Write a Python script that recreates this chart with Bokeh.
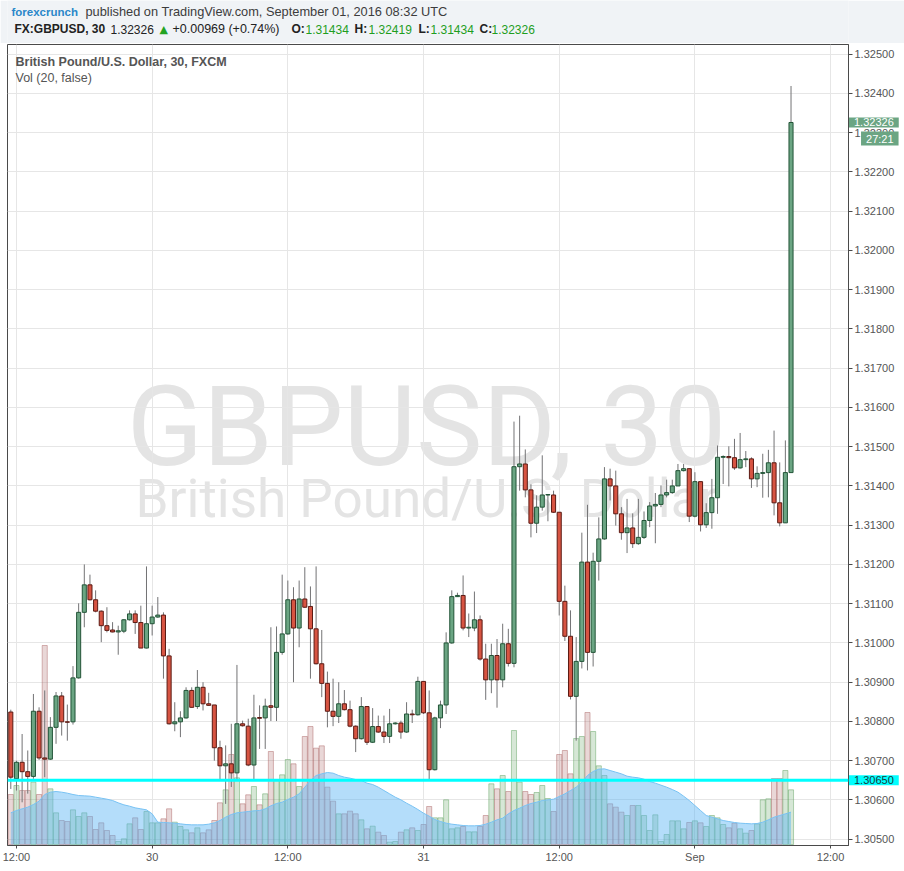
from bokeh.plotting import figure
from bokeh.layouts import column
from bokeh.models import (Range1d, FixedTicker, PrintfTickFormatter, Span, Label,
                          ColumnDataSource)
from bokeh.embed import file_html
from bokeh.resources import INLINE

# ---------------- data (GBPUSD 30-minute bars, FXCM) ----------------
opens = [1.30824, 1.30654, 1.30696, 1.30672, 1.30660, 1.30826, 1.30707, 1.30704, 1.30785, 1.30865,
         1.30799, 1.30799, 1.30911, 1.31078, 1.31148, 1.31110, 1.31081, 1.31044, 1.31033, 1.31028,
         1.31030, 1.31059, 1.31074, 1.31052, 1.30987, 1.31049, 1.31066, 1.31071, 1.30967, 1.30794,
         1.30799, 1.30809, 1.30879, 1.30838, 1.30887, 1.30845, 1.30842, 1.30733, 1.30687, 1.30692,
         1.30669, 1.30794, 1.30788, 1.30689, 1.30810, 1.30809, 1.30840, 1.30836, 1.30976, 1.31023,
         1.31110, 1.31038, 1.31112, 1.31093, 1.31036, 1.30947, 1.30897, 1.30826, 1.30813, 1.30845,
         1.30830, 1.30788, 1.30756, 1.30838, 1.30747, 1.30787, 1.30773, 1.30762, 1.30794, 1.30796,
         1.30773, 1.30819, 1.30817, 1.30902, 1.30822, 1.30677, 1.30809, 1.30842, 1.31000, 1.31118,
         1.31121, 1.31038, 1.31038, 1.31059, 1.30959, 1.30906, 1.30968, 1.30906, 1.30998, 1.30948,
         1.31449, 1.31456, 1.31390, 1.31305, 1.31346, 1.31377, 1.31377, 1.31333, 1.31106, 1.31017,
         1.30864, 1.30953, 1.31206, 1.30976, 1.31208, 1.31265, 1.31418, 1.31400, 1.31329, 1.31281,
         1.31293, 1.31253, 1.31269, 1.31312, 1.31349, 1.31353, 1.31377, 1.31383, 1.31400, 1.31439,
         1.31444, 1.31323, 1.31411, 1.31301, 1.31332, 1.31370, 1.31473, 1.31475, 1.31472, 1.31446,
         1.31467, 1.31469, 1.31418, 1.31432, 1.31434, 1.31459, 1.31357, 1.31306, 1.31434]
highs = [1.30830, 1.30700, 1.30768, 1.30726, 1.30870, 1.30836, 1.30879, 1.30811, 1.30875, 1.30875,
         1.30843, 1.30941, 1.31101, 1.31200, 1.31174, 1.31134, 1.31083, 1.31091, 1.31053, 1.31044,
         1.31061, 1.31083, 1.31083, 1.31095, 1.31195, 1.31095, 1.31117, 1.31078, 1.30985, 1.30849,
         1.30826, 1.30887, 1.30887, 1.30931, 1.30900, 1.30873, 1.30842, 1.30751, 1.30739, 1.30794,
         1.30944, 1.30802, 1.30807, 1.30868, 1.30841, 1.30858, 1.31040, 1.31042, 1.31174, 1.31159,
         1.31142, 1.31159, 1.31193, 1.31144, 1.31195, 1.31033, 1.30927, 1.30909, 1.30900, 1.30880,
         1.30853, 1.30790, 1.30862, 1.30839, 1.30834, 1.30815, 1.30815, 1.30832, 1.30798, 1.30802,
         1.30849, 1.30830, 1.30914, 1.30902, 1.30879, 1.30812, 1.30853, 1.31027, 1.31134, 1.31128,
         1.31172, 1.31075, 1.31131, 1.31070, 1.30998, 1.30998, 1.31010, 1.31049, 1.31036, 1.31564,
         1.31579, 1.31493, 1.31404, 1.31376, 1.31478, 1.31378, 1.31388, 1.31333, 1.31146, 1.31083,
         1.31015, 1.31281, 1.31352, 1.31230, 1.31320, 1.31448, 1.31444, 1.31439, 1.31346, 1.31367,
         1.31330, 1.31367, 1.31335, 1.31359, 1.31382, 1.31401, 1.31416, 1.31416, 1.31456, 1.31456,
         1.31444, 1.31435, 1.31411, 1.31356, 1.31418, 1.31503, 1.31478, 1.31501, 1.31520, 1.31535,
         1.31489, 1.31473, 1.31450, 1.31482, 1.31492, 1.31541, 1.31460, 1.31516, 1.32419]
lows = [1.30628, 1.30624, 1.30594, 1.30616, 1.30654, 1.30702, 1.30658, 1.30702, 1.30743, 1.30764,
        1.30751, 1.30792, 1.30909, 1.31040, 1.31108, 1.31078, 1.31002, 1.31027, 1.31027, 1.30970,
        1.31025, 1.31057, 1.31023, 1.30987, 1.30986, 1.31019, 1.31064, 1.30909, 1.30792, 1.30775,
        1.30760, 1.30807, 1.30835, 1.30832, 1.30828, 1.30840, 1.30700, 1.30650, 1.30590, 1.30633,
        1.30650, 1.30787, 1.30686, 1.30650, 1.30730, 1.30730, 1.30801, 1.30801, 1.30970, 1.31021,
        1.30900, 1.30989, 1.31089, 1.30909, 1.30945, 1.30862, 1.30785, 1.30788, 1.30796, 1.30828,
        1.30785, 1.30722, 1.30754, 1.30740, 1.30745, 1.30771, 1.30745, 1.30745, 1.30792, 1.30756,
        1.30771, 1.30796, 1.30815, 1.30819, 1.30651, 1.30675, 1.30783, 1.30819, 1.30998, 1.31117,
        1.31032, 1.31015, 1.31030, 1.30955, 1.30855, 1.30872, 1.30835, 1.30887, 1.30940, 1.30938,
        1.31388, 1.31371, 1.31269, 1.31280, 1.31337, 1.31310, 1.31331, 1.31070, 1.31005, 1.30856,
        1.30751, 1.30935, 1.30930, 1.30940, 1.31159, 1.31263, 1.31363, 1.31299, 1.31263, 1.31229,
        1.31242, 1.31250, 1.31265, 1.31295, 1.31254, 1.31346, 1.31371, 1.31380, 1.31400, 1.31437,
        1.31308, 1.31320, 1.31284, 1.31293, 1.31291, 1.31329, 1.31405, 1.31399, 1.31441, 1.31444,
        1.31448, 1.31395, 1.31397, 1.31370, 1.31371, 1.31325, 1.31297, 1.31306, 1.31434]
closes = [1.30658, 1.30696, 1.30672, 1.30660, 1.30826, 1.30707, 1.30704, 1.30785, 1.30865, 1.30799,
          1.30798, 1.30911, 1.31078, 1.31148, 1.31110, 1.31081, 1.31044, 1.31032, 1.31028, 1.31031,
          1.31059, 1.31074, 1.31052, 1.30987, 1.31049, 1.31066, 1.31071, 1.30967, 1.30794, 1.30799,
          1.30809, 1.30879, 1.30836, 1.30887, 1.30845, 1.30841, 1.30733, 1.30687, 1.30692, 1.30669,
          1.30794, 1.30789, 1.30689, 1.30809, 1.30808, 1.30839, 1.30836, 1.30976, 1.31023, 1.31110,
          1.31038, 1.31112, 1.31091, 1.31036, 1.30947, 1.30897, 1.30826, 1.30813, 1.30845, 1.30830,
          1.30788, 1.30756, 1.30838, 1.30747, 1.30787, 1.30773, 1.30762, 1.30794, 1.30796, 1.30773,
          1.30819, 1.30817, 1.30902, 1.30822, 1.30677, 1.30809, 1.30842, 1.31000, 1.31118, 1.31121,
          1.31038, 1.31040, 1.31059, 1.30959, 1.30906, 1.30968, 1.30906, 1.30998, 1.30948, 1.31449,
          1.31456, 1.31390, 1.31305, 1.31346, 1.31377, 1.31378, 1.31333, 1.31106, 1.31017, 1.30864,
          1.30953, 1.31206, 1.30976, 1.31208, 1.31265, 1.31418, 1.31400, 1.31329, 1.31281, 1.31293,
          1.31253, 1.31269, 1.31312, 1.31349, 1.31353, 1.31377, 1.31383, 1.31400, 1.31439, 1.31444,
          1.31323, 1.31411, 1.31301, 1.31332, 1.31370, 1.31473, 1.31475, 1.31472, 1.31446, 1.31467,
          1.31469, 1.31418, 1.31432, 1.31434, 1.31459, 1.31357, 1.31306, 1.31434, 1.32326]
volume = [150, 177, 162, 162, 187, 150, 597, 167, 95, 72,
          69, 104, 84, 95, 84, 45, 65, 42, 27, 9,
          17, 62, 80, 45, 99, 65, 65, 77, 107, 67,
          54, 44, 35, 50, 35, 44, 72, 125, 164, 270,
          200, 122, 149, 174, 119, 152, 279, 192, 209, 255,
          242, 174, 324, 354, 289, 296, 172, 130, 92, 92,
          100, 92, 74, 47, 55, 37, 27, 7, 9, 37,
          44, 50, 42, 60, 114, 80, 80, 134, 47, 50,
          54, 38, 38, 54, 87, 182, 167, 207, 159, 342,
          187, 159, 150, 156, 177, 138, 99, 270, 282, 212,
          318, 324, 396, 339, 236, 207, 122, 112, 97, 87,
          117, 117, 87, 42, 89, 9, 30, 71, 71, 47,
          66, 71, 65, 54, 87, 80, 60, 50, 64, 47,
          34, 42, 62, 134, 137, 198, 198, 222, 164]
vol_ma = [95, 102, 107, 112, 120, 130, 150, 157, 159, 157,
          154, 150, 147, 146, 145, 142, 139, 136, 132, 125,
          119, 115, 110, 107, 104, 92, 67, 66, 65, 64,
          62, 60, 59, 59, 59, 61, 65, 72, 82, 90,
          95, 97, 99, 101, 102, 107, 116, 123, 127, 135,
          142, 152, 172, 192, 207, 212, 216, 214, 207, 202,
          199, 195, 192, 184, 180, 172, 162, 152, 142, 134,
          124, 115, 105, 94, 85, 75, 69, 64, 61, 59,
          57, 56, 56, 57, 61, 67, 74, 79, 92, 102,
          109, 117, 123, 127, 132, 134, 136, 144, 152, 162,
          172, 187, 207, 219, 226, 227, 222, 217, 212, 205,
          202, 200, 196, 189, 184, 178, 172, 165, 157, 145,
          132, 117, 102, 87, 82, 77, 72, 69, 66, 64,
          63, 62, 63, 67, 74, 82, 87, 92, 97]
time_tick_bars = [1, 25, 49, 73, 97, 121, 145]
time_tick_labels = ["12:00", "30", "12:00", "31", "12:00", "Sep", "12:00"]
price_ticks = [round(1.305 + 0.001 * k, 3) for k in range(21)]
hline_level = 1.30650
day_change = "+0.00969 (+0.74%)"
countdown = "27:21"

# ---------------- layout helpers (page pixels) ----------------
HEADER_H = 43
FRAME_LEFT, FRAME_RIGHT, FRAME_TOP, FRAME_BOTTOM = 7, 847, 44, 845
RIGHT_STACK = 188          # price axis + the three price-box panels (measured)
BAR0_PX, BAR_STEP_PX = 10.3, 5.647          # page x of bar 0, px per bar
PRICE_PX0, PX_PER_PRICE = 838.7, 39250.0    # page y of 1.30500, px per 1.0 price
def bar_at(px):
    return (px - BAR0_PX) / BAR_STEP_PX
def price_at(py):
    return 1.305 + (PRICE_PX0 - py) / PX_PER_PRICE
def sx(px):
    return px - FRAME_LEFT
def sy(py):
    return FRAME_BOTTOM - py

UP_BODY, UP_EDGE = "#6ba583", "#225437"
DN_BODY, DN_EDGE = "#d75442", "#5b1a13"
WICK = "#737375"
AXIS_C = "#4a4a4a"
FONT = "Liberation Sans"
TOTAL_W = FRAME_RIGHT + RIGHT_STACK

# ---------------- header strip ----------------
hf = figure(width=TOTAL_W, height=HEADER_H, output_backend="svg", toolbar_location=None,
            x_range=Range1d(0, TOTAL_W), y_range=Range1d(0, HEADER_H), min_border=0,
            x_axis_type=None, y_axis_type=None)
hf.background_fill_color = "#f0f3f6"
hf.border_fill_color = "#f0f3f6"
hf.outline_line_color = None
hf.grid.visible = False

def hdr(text, x, base_y, color="#333333", style="normal", size="12px", font=FONT):
    hf.add_layout(Label(x=x, y=HEADER_H - base_y, x_units="screen", y_units="screen",
                        text=text, text_font=font, text_font_size=size,
                        text_font_style=style, text_color=color, text_baseline="alphabetic"))

L1, L2 = 11.2, 28.8
hdr("forexcrunch", 4, L1, color="#2a87c9", style="bold", size="11.5px")
hdr("published on TradingView.com, September 01, 2016 08:32 UTC", 78, L1, color="#3c3c3c",
    size="12.8px")
GREEN = "#1e9e1e"
hdr("FX:GBPUSD, 30", 7, L2, color="#222222", style="bold")
hdr(f"{closes[-1]:.5f}", 103, L2, color="#222222")
hdr("\u25B2", 152, L2, color="#22a322", font="DejaVu Sans", size="11px")
hdr(day_change, 165, L2, color="#222222", size="12.5px")
for lab, val, xl, xv in (("O:", opens[-1], 284, 298), ("H:", highs[-1], 347, 361),
                         ("L:", lows[-1], 411, 423), ("C:", closes[-1], 472, 484)):
    hdr(lab, xl, L2, color="#222222", style="bold")
    hdr(f"{val:.5f}", xv, L2, color=GREEN)

# ---------------- main chart ----------------
idx = list(range(len(opens)))
is_up = [c >= o for o, c in zip(opens, closes)]
src = ColumnDataSource(dict(
    x=idx, o=opens, h=highs, l=lows, c=closes,
    top=[max(o, c) for o, c in zip(opens, closes)],
    bot=[min(o, c) for o, c in zip(opens, closes)],
    fill=[UP_BODY if u else DN_BODY for u in is_up],
    edge=[UP_EDGE if u else DN_EDGE for u in is_up],
    vol=volume,
    vcol=["#5aa05a" if u else "#a86060" for u in is_up],
    ma=vol_ma,
))

p = figure(width=TOTAL_W, height=871 - HEADER_H,
           output_backend="svg", toolbar_location=None,
           x_range=Range1d(bar_at(FRAME_LEFT), bar_at(FRAME_RIGHT)),
           y_range=Range1d(price_at(FRAME_BOTTOM), price_at(FRAME_TOP)),
           y_axis_location="right", min_border_left=FRAME_LEFT, min_border_right=904 - FRAME_RIGHT,
           min_border_top=FRAME_TOP - HEADER_H, min_border_bottom=871 - FRAME_BOTTOM)
p.extra_y_ranges = {"vol": Range1d(-3, 2400)}
p.background_fill_color = "white"
p.border_fill_color = "white"
p.outline_line_color = AXIS_C

p.xaxis.ticker = FixedTicker(ticks=time_tick_bars)
p.xaxis.major_label_overrides = {t: s for t, s in zip(time_tick_bars, time_tick_labels)}
p.yaxis.ticker = FixedTicker(ticks=price_ticks)
p.yaxis.formatter = PrintfTickFormatter(format="%.5f")
for ax in (p.xaxis[0], p.yaxis[0]):
    ax.axis_line_color = AXIS_C
    ax.major_tick_line_color = AXIS_C
    ax.minor_tick_line_color = None
    ax.major_tick_in = 0
    ax.major_label_text_font = FONT
    ax.major_label_text_font_size = "11px"
    ax.major_label_text_color = "#555555"
    ax.major_label_standoff = 2
p.yaxis.major_tick_out = 4
p.xaxis.major_tick_out = 3
p.xaxis.major_label_standoff = 2
p.xgrid.grid_line_color = "#e6e6e6"
p.ygrid.grid_line_color = "#e6e6e6"

# watermark
p.add_layout(Label(x=sx(426), y=sy(426), x_units="screen", y_units="screen",
                   text="GBPUSD, 30", text_font="Roboto", text_font_size="112px",
                   text_color="#e4e4e4", text_align="center", text_baseline="alphabetic",
                   level="image"))
p.add_layout(Label(x=sx(426), y=sy(498), x_units="screen", y_units="screen",
                   text="British Pound/U.S. Dollar", text_font="Roboto", text_font_size="53px",
                   text_color="#e4e4e4", text_align="center", text_baseline="alphabetic",
                   level="image"))

# volume + volume MA
p.vbar(x="x", top="vol", bottom=0, width=0.9, source=src, y_range_name="vol",
       fill_color="vcol", fill_alpha=0.25, line_color="vcol", line_alpha=0.45, line_width=1)
p.varea(x="x", y1=0, y2="ma", source=src, y_range_name="vol",
        fill_color="#58b4f5", fill_alpha=0.45)
p.line(x="x", y="ma", source=src, y_range_name="vol", line_color="#78c2f3", line_width=1)

# candles
p.segment(x0="x", y0="l", x1="x", y1="h", source=src, line_color=WICK, line_width=1)
p.vbar(x="x", top="top", bottom="bot", width=0.72, source=src,
       fill_color="fill", line_color="edge", line_width=1)

p.add_layout(Span(location=hline_level, dimension="width", line_color="#00ffff", line_width=3))

# pane titles
p.add_layout(Label(x=sx(15), y=sy(61.8), x_units="screen", y_units="screen",
                   text="British Pound/U.S. Dollar, 30, FXCM", text_font=FONT,
                   text_font_size="12.5px", text_font_style="bold", text_color="#555555",
                   text_baseline="alphabetic"))
p.add_layout(Label(x=sx(15), y=sy(77.8), x_units="screen", y_units="screen",
                   text="Vol (20, false)", text_font=FONT, text_font_size="12.5px",
                   text_color="#555555", text_baseline="alphabetic"))

# price boxes on the price scale: side-panel labels (not clipped to the frame),
# drawn at data coordinates over the price axis strip
pad = dict(left=5, right=5, top=1, bottom=1)
for lbl in (
    Label(x=bar_at(847.5), y=closes[-1], text=f"{closes[-1]:.5f}", text_font=FONT,
          text_font_size="11px", text_color="white", text_align="left", text_baseline="middle",
          background_fill_color=UP_BODY, padding=pad),
    Label(x=bar_at(897), y=price_at(138), text=countdown, text_font=FONT,
          text_font_size="11px", text_color="white", text_align="right", text_baseline="middle",
          background_fill_color=UP_BODY, padding=pad),
    Label(x=bar_at(847.5), y=hline_level, text=f"{hline_level:.5f}", text_font=FONT,
          text_font_size="11px", text_color="#1a3a3a", text_align="left", text_baseline="middle",
          background_fill_color="#00ffff", padding=pad),
):
    p.add_layout(lbl, "right")

layout = column(hf, p, spacing=0)
open("out.html", "w").write(file_html(layout, INLINE))
